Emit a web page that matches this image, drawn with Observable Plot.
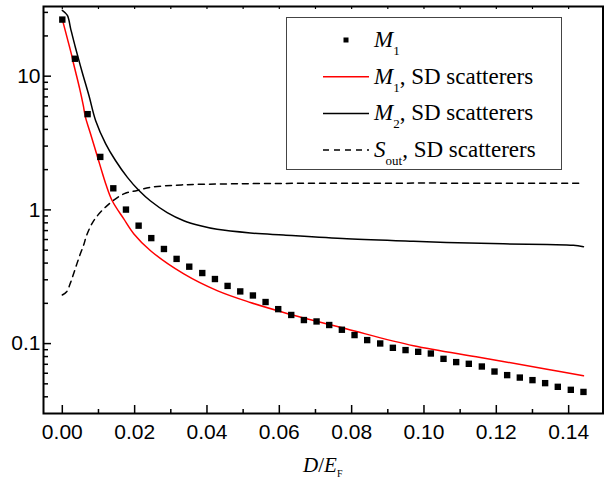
<!DOCTYPE html>
<html><head><meta charset="utf-8">
<script src="https://cdn.jsdelivr.net/npm/d3@7"></script>
<script src="https://cdn.jsdelivr.net/npm/@observablehq/plot@0.6"></script>
<style>
body{margin:0;background:#fff;}
#wrap{position:relative;width:605px;height:478px;overflow:hidden;}
#legend{position:absolute;left:286px;top:17px;}
</style>
</head><body>
<div id="wrap"></div>
<script>
// ---- data ----
const m1X = [0, 0.0035, 0.0070, 0.0105, 0.0141, 0.0176, 0.0211, 0.0246, 0.0281, 0.0316, 0.0351, 0.0387, 0.0422, 0.0457, 0.0492, 0.0527, 0.0562, 0.0597, 0.0633, 0.0668, 0.0703, 0.0738, 0.0773, 0.0808, 0.0843, 0.0879, 0.0914, 0.0949, 0.0984, 0.1019, 0.1054, 0.1089, 0.1124, 0.1160, 0.1195, 0.1230, 0.1265, 0.1300, 0.1335, 0.1370, 0.1406, 0.1441];
const m1Y = [26.5, 13.5, 5.20, 2.49, 1.45, 1.005, 0.762, 0.615, 0.510, 0.430, 0.376, 0.337, 0.304, 0.270, 0.2456, 0.229, 0.2046, 0.181, 0.1637, 0.150, 0.1464, 0.1377, 0.1269, 0.1158, 0.1062, 0.1002, 0.0930, 0.0894, 0.0868, 0.0843, 0.0769, 0.0727, 0.0706, 0.0674, 0.0618, 0.0581, 0.0557, 0.0533, 0.0506, 0.0475, 0.0451, 0.0435];

const m1sdX = [0, 0.0014, 0.0026, 0.0029, 0.0037, 0.0048, 0.0058, 0.0064, 0.0078, 0.0092, 0.0106, 0.0120, 0.0138, 0.0170, 0.0198, 0.0244, 0.0336, 0.0428, 0.0520, 0.0612, 0.0787, 0.0971, 0.1156, 0.1340, 0.1441];
const m1sdY = [26.6, 19.1, 14.3, 13.1, 10.7, 8.06, 6.04, 4.94, 3.71, 2.78, 2.08, 1.57, 1.17, 0.856, 0.661, 0.495, 0.332, 0.249, 0.203, 0.171, 0.1285, 0.0963, 0.0787, 0.0644, 0.0574];

const m2sdX = [0, 0.0014, 0.0023, 0.0037, 0.0055, 0.0074, 0.0092, 0.0120, 0.0147, 0.0180, 0.0212, 0.0244, 0.0290, 0.0336, 0.0382, 0.0428, 0.0520, 0.0612, 0.0787, 0.0971, 0.1156, 0.1340, 0.1413, 0.1441];
const m2sdY = [31.1, 28.5, 22.7, 16.1, 10.7, 7.1, 4.67, 3.12, 2.34, 1.75, 1.395, 1.165, 0.955, 0.83, 0.76, 0.715, 0.672, 0.648, 0.608, 0.582, 0.562, 0.55, 0.543, 0.531];

const soutX = [0, 0.0012, 0.0023, 0.0034, 0.0048, 0.0060, 0.0067, 0.0087, 0.0124, 0.0170, 0.0207, 0.0244, 0.0336, 0.0474, 0.0659, 0.0900, 0.1200, 0.1441];
const soutY = [0.231, 0.244, 0.287, 0.351, 0.455, 0.556, 0.642, 0.831, 1.077, 1.318, 1.395, 1.476, 1.54, 1.566, 1.58, 1.585, 1.585, 1.585];

// ticks
const xTickLabels = [0, 0.02, 0.04, 0.06, 0.08, 0.10, 0.12, 0.14];
const xMinorTicks = [0.01, 0.03, 0.05, 0.07, 0.09, 0.11, 0.13];
const xTopTicks = [0, 0.01, 0.02, 0.03, 0.04, 0.05, 0.06, 0.07, 0.08, 0.09, 0.10, 0.11, 0.12, 0.13, 0.14];
const yTickLabels = [0.1, 1, 10];
const yMinorTicks = [0.04, 0.05, 0.06, 0.07, 0.08, 0.09, 0.2, 0.3, 0.4, 0.5, 0.6, 0.7, 0.8, 0.9, 2, 3, 4, 5, 6, 7, 8, 9, 20, 30];

const legendLabels = [
  {main: "M", sub: "1", rest: ""},
  {main: "M", sub: "1", rest: ", SD scatterers"},
  {main: "M", sub: "2", rest: ", SD scatterers"},
  {main: "S", sub: "out", rest: ", SD scatterers"}
];

// ---- build ----
const zip = (xs, ys) => xs.map((x, i) => ({x, y: ys[i]}));
const m1 = zip(m1X, m1Y), m1sd = zip(m1sdX, m1sdY), m2sd = zip(m2sdX, m2sdY), sout = zip(soutX, soutY);

const W = 605, H = 478, mL = 43, mR = 2.5, mT = 6, mB = 65;
const fW = W - mL - mR, fH = H - mT - mB;
const serif = '"Liberation Serif", "Times New Roman", serif';

const chart = Plot.plot({
  width: W, height: H,
  marginLeft: mL, marginRight: mR, marginTop: mT, marginBottom: mB,
  style: {fontFamily: '"Liberation Sans", Arial, sans-serif', fontSize: "21px", color: "#000", background: "#fff"},
  x: {domain: [-0.0052, 0.1495], label: null},
  y: {type: "log", domain: [0.03, 33.2], label: null},
  marks: [
    Plot.axisX(xTickLabels, {tickSize: 0, tickPadding: 11, tickFormat: d3.format(".2f"), fontSize: 21, label: null}),
    Plot.axisY(yTickLabels, {tickSize: 0, tickPadding: 3, tickFormat: d => String(d), fontSize: 21, label: null}),
    Plot.ruleX(xTickLabels, {x: d => d, insetTop: fH - 8, strokeWidth: 1.5}),
    Plot.ruleX(xMinorTicks, {x: d => d, insetTop: fH - 4, strokeWidth: 1.5}),
    Plot.ruleX(xTopTicks, {x: d => d, insetBottom: fH - 3, strokeWidth: 1.2}),
    Plot.ruleY(yTickLabels, {y: d => d, insetRight: fW - 8, strokeWidth: 1.5}),
    Plot.ruleY(yMinorTicks, {y: d => d, insetRight: fW - 5, strokeWidth: 1.5}),
    Plot.line(sout, {x: "x", y: "y", stroke: "#000", strokeWidth: 1.5, strokeDasharray: "6,5", curve: "catmull-rom"}),
    Plot.line(m2sd, {x: "x", y: "y", stroke: "#000", strokeWidth: 1.5, curve: "catmull-rom"}),
    Plot.line(m1sd, {x: "x", y: "y", stroke: "#ff0000", strokeWidth: 1.5, curve: "catmull-rom"}),
    Plot.dot(m1, {x: "x", y: "y", symbol: "square", r: 3.6, fill: "#000", stroke: null}),
    Plot.frame({strokeWidth: 2})
  ]
});

const wrap = document.getElementById("wrap");
wrap.appendChild(chart);

// x-axis label
const svg = d3.select(chart);
const xl = svg.append("text")
  .attr("x", mL + fW / 2).attr("y", 471.5)
  .attr("text-anchor", "middle")
  .style("font-family", serif)
  .style("font-size", "21px").attr("fill", "#000");
xl.append("tspan").style("font-style", "italic").text("D");
xl.append("tspan").text("/");
xl.append("tspan").style("font-style", "italic").text("E");
xl.append("tspan").style("font-size", "10px").attr("dy", 5).text("F");

// legend
const lg = d3.select(wrap).append("svg").attr("id", "legend")
  .attr("width", 277).attr("height", 155);
lg.append("rect").attr("x", 0.5).attr("y", 0.5).attr("width", 275).attr("height", 152)
  .attr("fill", "#fff").attr("stroke", "#444").attr("stroke-width", 1);
legendLabels.forEach((d, i) => {
  const cy = 23 + 36.7 * i;
  if (i === 0) {
    lg.append("rect").attr("x", 57.5).attr("y", cy - 2.5).attr("width", 5).attr("height", 5).attr("fill", "#000");
  } else {
    lg.append("line").attr("x1", 37).attr("x2", 83).attr("y1", cy).attr("y2", cy)
      .attr("stroke", i === 1 ? "#ff0000" : "#000").attr("stroke-width", 1.5)
      .attr("stroke-dasharray", i === 3 ? "6,5" : null);
  }
  const t = lg.append("text").attr("x", 88).attr("y", cy + 7)
    .style("font-family", serif)
    .style("font-size", "23px").attr("fill", "#000");
  t.append("tspan").style("font-style", "italic").text(d.main);
  t.append("tspan").style("font-size", "13px").attr("dy", 8).text(d.sub);
  if (d.rest) t.append("tspan").attr("dy", -8).text(d.rest);
});
</script>
</body></html>
